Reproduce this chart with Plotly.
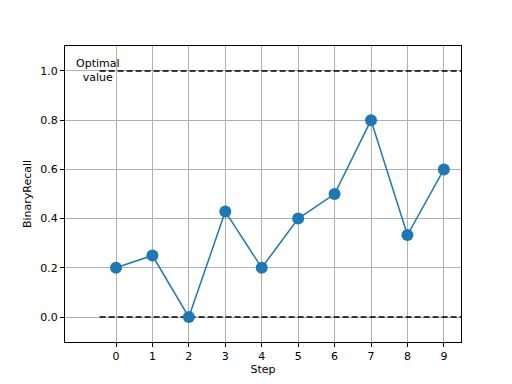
import plotly.graph_objects as go

steps = [0, 1, 2, 3, 4, 5, 6, 7, 8, 9]
recall = [0.2, 0.25, 0.0, 0.4286, 0.2, 0.4, 0.5, 0.8, 0.3333, 0.6]
optimal_y = [1.0, 1.0]
zero_y = [0.0, 0.0]
ref_x = [-0.45, 9.5]
y_ticks = [0.0, 0.2, 0.4, 0.6, 0.8, 1.0]
y_ticklabels = ["0.0", "0.2", "0.4", "0.6", "0.8", "1.0"]

fig = go.Figure()
fig.add_trace(go.Scatter(x=ref_x, y=optimal_y, mode="lines",
                         line=dict(color="black", width=1.5, dash="6px,3px"),
                         hoverinfo="skip", showlegend=False))
fig.add_trace(go.Scatter(x=ref_x, y=zero_y, mode="lines",
                         line=dict(color="black", width=1.5, dash="6px,3px"),
                         hoverinfo="skip", showlegend=False))
fig.add_trace(go.Scatter(x=steps, y=recall, mode="lines+markers",
                         line=dict(color="#1f77b4", width=1.5),
                         marker=dict(color="#1f77b4", size=12),
                         showlegend=False, cliponaxis=False))

fig.add_annotation(x=-0.5, y=1.0, text="Optimal<br>value", showarrow=False,
                   xanchor="center", yanchor="middle", align="center",
                   font=dict(size=11, color="black"),
                   bgcolor="rgba(0,0,0,0)")

axis_common = dict(showline=True, linecolor="black", linewidth=1, mirror=True,
                   ticks="outside", ticklen=4, tickcolor="black",
                   showgrid=True, gridcolor="#b0b0b0", gridwidth=1,
                   zeroline=False, tickfont=dict(size=11, color="black"))

fig.update_layout(
    width=512, height=384,
    margin=dict(l=57, r=59, t=38, b=50),
    paper_bgcolor="white", plot_bgcolor="white",
    font=dict(family="DejaVu Sans", size=11, color="black"),
    xaxis=dict(range=[-1.4, 9.47], tickvals=steps, ticktext=[str(s) for s in steps],
               title=dict(text="Step", font=dict(size=11), standoff=3), **axis_common),
    yaxis=dict(range=[-0.1016, 1.1016], tickvals=y_ticks, ticktext=y_ticklabels,
               title=dict(text="BinaryRecall", font=dict(size=11), standoff=6), **axis_common),
)

fig.write_html("out.html")
